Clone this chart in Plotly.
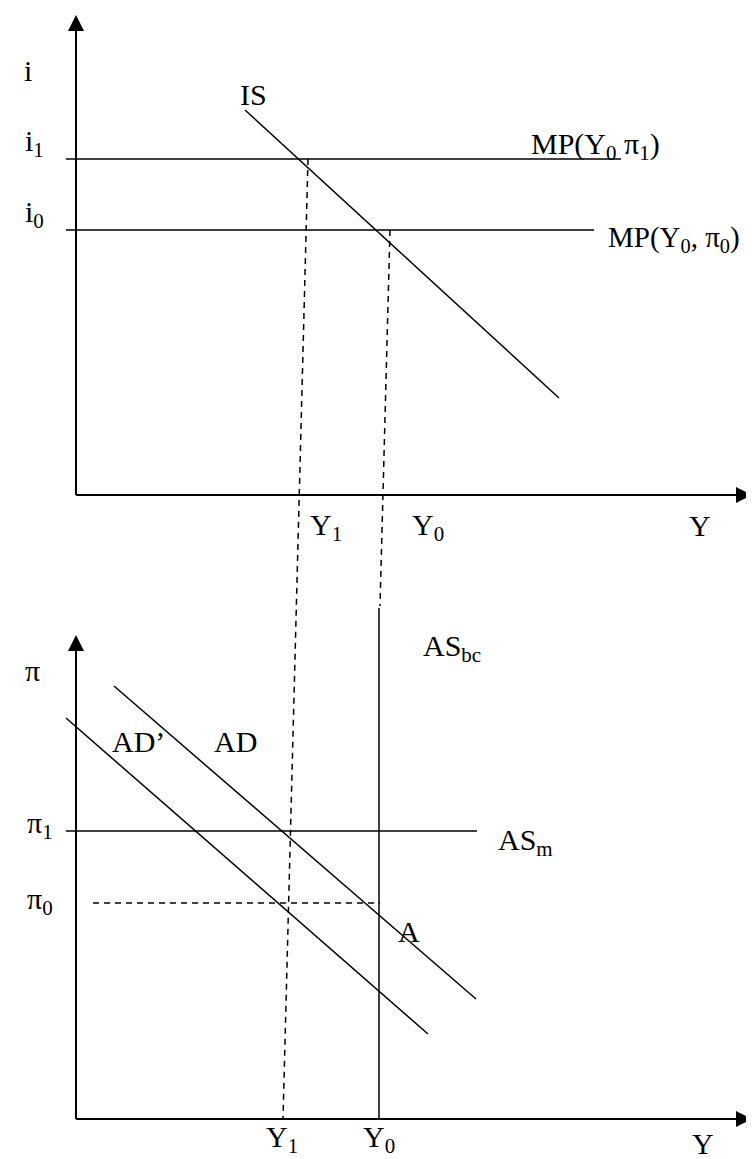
"""IS-MP / AD-AS schematic, drawn on one pixel-scaled Plotly axis."""
import plotly.graph_objects as go

W, H = 754, 1159
FONT = "Liberation Serif, Times New Roman, serif"

# --- upper panel: i against Y ---
top_vaxis_x = [68, 68]
top_vaxis_y = [487, 12]
top_haxis_x = [68, 740]
top_haxis_y = [487, 487]
is_x = [237, 551]
is_y = [102, 390]
mp1_x = [58, 613]
mp1_y = [151, 151]
mp0_x = [58, 586]
mp0_y = [222, 222]

# --- dashed projections from the upper panel down to the lower one ---
proj_y1_x = [300, 275]
proj_y1_y = [151, 1111]
proj_y0_x = [382, 372]
proj_y0_y = [222, 598]

# --- lower panel: pi against Y ---
bot_vaxis_x = [68, 68]
bot_vaxis_y = [1111, 632]
bot_haxis_x = [68, 740]
bot_haxis_y = [1111, 1111]
ad_x = [106, 468]
ad_y = [678, 991]
adp_x = [58, 420]
adp_y = [710, 1026]
asm_x = [58, 469]
asm_y = [823, 823]
asbc_x = [371, 371]
asbc_y = [600, 1111]
pi0_x = [85, 372]
pi0_y = [895, 895]

# arrow tips: (x, y, direction)
arrow_x = [68, 744, 68, 744]
arrow_y = [7, 487, 627, 1111]
arrow_sym = ["arrow-up", "arrow-right", "arrow-up", "arrow-right"]

# labels: text, x, y, anchor, size
labels = [
    ("i", 20, 62, "center", 30),
    ("i<sub>1</sub>", 15, 135, "left", 30),
    ("i<sub>0</sub>", 15, 206, "left", 30),
    ("IS", 245, 86, "center", 30),
    ("MP(Y<sub>0</sub> π<sub>1</sub>)", 521, 138, "left", 30),
    ("MP(Y<sub>0</sub>, π<sub>0</sub>)", 598, 231, "left", 29),
    ("Y<sub>1</sub>", 300, 519, "left", 30),
    ("Y<sub>0</sub>", 402, 519, "left", 30),
    ("Y", 692, 517, "center", 30),
    ("AS<sub>bc</sub>", 413, 640, "left", 30),
    ("π", 24, 662, "center", 30),
    ("AD’", 102, 733, "left", 30),
    ("AD", 204, 733, "left", 30),
    ("π<sub>1</sub>", 17, 817, "left", 30),
    ("AS<sub>m</sub>", 488, 834, "left", 30),
    ("π<sub>0</sub>", 17, 893, "left", 30),
    ("A", 401, 923, "center", 30),
    ("Y<sub>1</sub>", 256, 1131, "left", 30),
    ("Y<sub>0</sub>", 353, 1131, "left", 30),
    ("Y", 695, 1135, "center", 30),
]

fig = go.Figure()


def seg(x, y, width=1.5, dash="solid"):
    fig.add_trace(go.Scatter(x=x, y=y, mode="lines", hoverinfo="skip",
                             line=dict(color="black", width=width, dash=dash)))


# axes
for x, y in [(top_vaxis_x, top_vaxis_y), (top_haxis_x, top_haxis_y),
             (bot_vaxis_x, bot_vaxis_y), (bot_haxis_x, bot_haxis_y)]:
    seg(x, y, width=2)

# curves
for x, y in [(is_x, is_y), (mp1_x, mp1_y), (mp0_x, mp0_y), (ad_x, ad_y),
             (adp_x, adp_y), (asm_x, asm_y), (asbc_x, asbc_y)]:
    seg(x, y)

# dashed guides
for x, y in [(proj_y1_x, proj_y1_y), (proj_y0_x, proj_y0_y), (pi0_x, pi0_y)]:
    seg(x, y, dash="6px,5px")

fig.add_trace(go.Scatter(x=arrow_x, y=arrow_y, mode="markers", hoverinfo="skip",
                         marker=dict(symbol=arrow_sym, size=16, color="black",
                                     line=dict(width=0))))

for text, x, y, anchor, size in labels:
    fig.add_annotation(x=x, y=y, text=text, showarrow=False, xanchor=anchor,
                       yanchor="middle", font=dict(family=FONT, size=size, color="black"))

fig.update_layout(
    width=W, height=H, showlegend=False,
    margin=dict(l=0, r=0, t=0, b=0),
    paper_bgcolor="white", plot_bgcolor="white",
    xaxis=dict(range=[0, W], visible=False, fixedrange=True),
    yaxis=dict(range=[H, 0], visible=False, fixedrange=True),
)

fig.write_html("out.html")
